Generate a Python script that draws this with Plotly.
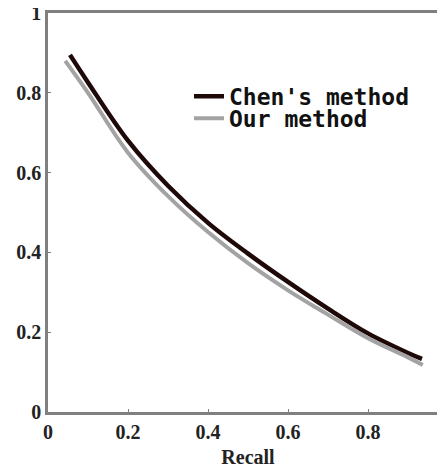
import plotly.graph_objects as go

# Data
chen_recall = [0.055, 0.10, 0.20, 0.30, 0.40, 0.50, 0.60, 0.70, 0.80, 0.90, 0.935]
chen_precision = [0.895, 0.826, 0.680, 0.567, 0.474, 0.397, 0.326, 0.259, 0.197, 0.148, 0.133]

our_recall = [0.043, 0.10, 0.20, 0.30, 0.40, 0.50, 0.60, 0.70, 0.80, 0.90, 0.937]
our_precision = [0.880, 0.800, 0.650, 0.541, 0.451, 0.373, 0.305, 0.244, 0.185, 0.137, 0.118]

tick_vals = [0, 0.2, 0.4, 0.6, 0.8, 1]
tick_text = ["0", "0.2", "0.4", "0.6", "0.8", "1"]

fig = go.Figure()
fig.add_trace(go.Scatter(x=chen_recall, y=chen_precision, mode="lines",
                         line=dict(color="#1e0808", width=4.5, shape="spline"),
                         name="Chen's method", legend="legend"))
fig.add_trace(go.Scatter(x=our_recall, y=our_precision, mode="lines",
                         line=dict(color="#a3a3a3", width=4, shape="spline"),
                         name="Our method", legend="legend2"))

tick_font = dict(family="Liberation Serif", size=20, color="#222222", weight="bold")
legend_font = dict(family="DejaVu Sans Mono", size=23, color="#111111", weight="bold")

fig.update_layout(
    width=445, height=469,
    margin=dict(l=40, r=5, t=5, b=65, autoexpand=False),
    paper_bgcolor="white", plot_bgcolor="white",
    showlegend=True,
    legend=dict(x=0.3525, y=0.845, xanchor="left", yanchor="top",
                bgcolor="rgba(0,0,0,0)", borderwidth=0, font=legend_font),
    legend2=dict(x=0.3525, y=0.790, xanchor="left", yanchor="top",
                 bgcolor="rgba(0,0,0,0)", borderwidth=0, font=legend_font),
    xaxis=dict(range=[0, 1], tickvals=tick_vals, ticktext=tick_text,
               showgrid=False, zeroline=False, showline=True, linecolor="#808080",
               linewidth=2.5, mirror=True, ticks="inside", ticklen=3, tickcolor="#808080",
               tickfont=tick_font, automargin=False, ticklabeloverflow="allow",
               title=dict(text="Recall", font=dict(family="Liberation Serif", size=20,
                                                    color="#222222", weight="bold"), standoff=9)),
    yaxis=dict(range=[0, 1], tickvals=tick_vals, ticktext=tick_text,
               showgrid=False, zeroline=False, showline=True, linecolor="#808080",
               linewidth=2.5, ticks="inside", ticklen=3, tickcolor="#808080",
               tickfont=tick_font, automargin=False, ticklabeloverflow="allow"),
)

fig.write_html("out.html")
